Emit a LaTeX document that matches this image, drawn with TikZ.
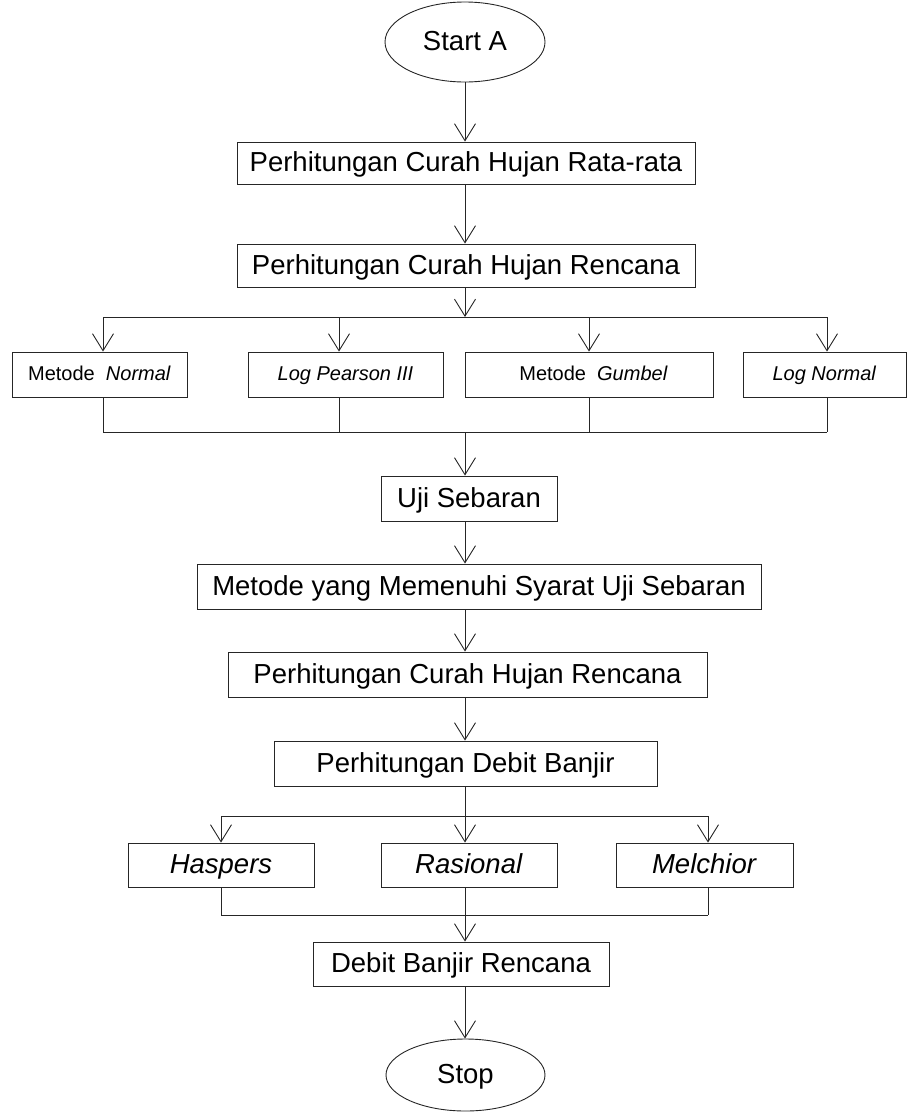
\documentclass[tikz,border=0pt]{standalone}
\usepackage{fontspec}
\setmainfont{Liberation Sans}
\usetikzlibrary{arrows.meta,shapes.geometric}

\tikzset{
  box/.style={draw=black!85, line width=0.9pt, inner sep=0pt, minimum height=45pt,
    font=\fontsize{27.5pt}{33pt}\selectfont, text height=20pt, text depth=2.75pt},
  smallbox/.style={box, font=\fontsize{20pt}{24pt}\selectfont, text height=14.5pt, text depth=2pt},
  term/.style={box, ellipse},
  wire/.style={draw=black!85, line width=0.9pt},
  arr/.style={wire, -{Straight Barb[length=17pt,width=21pt]}}
}

\begin{document}
\begin{tikzpicture}[x=1pt,y=-1pt]
    \useasboundingbox (0,0) rectangle (908,1112);
    % x of the main line and of the branches
    \coordinate (trunk) at (465,0);
    \foreach \n/\x in {normal/103,pearson/339,gumbel/589,lognormal/827,haspers/221,rasional/465,melchior/708}
      \coordinate (x\n) at (\x,0);

    \node[term, minimum width=160pt, minimum height=80pt] (start) at (465,42) {Start A};
    \node[box, minimum width=458pt, minimum height=42pt] (b1) at (466,163) {Perhitungan Curah Hujan Rata-rata};
    \node[box, minimum width=458pt, minimum height=43pt] (b2) at (466,265.5) {Perhitungan Curah Hujan Rencana};

    \node[smallbox, minimum width=175pt] (normal) at (99.5,374.5) {Metode\ \ \textit{Normal}\hspace{10pt}};
    \node[smallbox, minimum width=195pt] (pearson) at (345.5,374.5) {\textit{Log Pearson III}\hspace{37pt}};
    \node[smallbox, minimum width=248pt] (gumbel) at (589,374.5) {\hspace{9pt}Metode\ \ \textit{Gumbel}};
    \node[smallbox, minimum width=163pt] (lognormal) at (824.5,374.5) {\textit{Log Normal}\hspace{6pt}};

    \node[box, minimum width=176pt] (uji) at (469,498.5) {Uji Sebaran};
    \node[box, minimum width=564pt] (syarat) at (479,586.5) {Metode yang Memenuhi Syarat Uji Sebaran};
    \node[box, minimum width=479pt] (b3) at (467.5,674.5) {Perhitungan Curah Hujan Rencana};
    \node[box, minimum width=383pt] (debit) at (465.5,763.5) {Perhitungan Debit Banjir};

    \node[box, minimum width=186pt, minimum height=44pt] (haspers) at (221,865) {\textit{Haspers}};
    \node[box, minimum width=176pt, minimum height=44pt] (rasional) at (469,865) {\textit{Rasional}};
    \node[box, minimum width=177pt, minimum height=44pt] (melchior) at (704.5,865) {\textit{Melchior}};

    \node[box, minimum width=296pt, minimum height=44pt] (drb) at (461,964) {Debit Banjir Rencana};
    \node[term, minimum width=159pt, minimum height=72pt] (stop) at (465.5,1075) {Stop};

    \foreach \a/\b in {start/b1,b1/b2,uji/syarat,syarat/b3,b3/debit,drb/stop}
      \draw[arr] (\a.south -| trunk) -- (\b.north -| trunk);

    % four distribution methods
    \coordinate (fork1) at (465,317);
    \coordinate (join1) at (465,432);
    \draw[arr] (b2.south -| trunk) -- (fork1);
    \draw[wire] (fork1 -| xnormal) -- (fork1 -| xlognormal);
    \draw[wire] (join1 -| xnormal) -- (join1 -| xlognormal);
    \foreach \n in {normal,pearson,gumbel,lognormal} {
      \draw[arr] (fork1 -| x\n) -- (\n.north -| x\n);
      \draw[wire] (\n.south -| x\n) -- (join1 -| x\n);
    }
    \draw[arr] (join1) -- (uji.north -| trunk);

    % three flood methods
    \coordinate (fork2) at (465,816);
    \coordinate (join2) at (465,915);
    \draw[wire] (debit.south -| trunk) -- (fork2);
    \draw[wire] (fork2 -| xhaspers) -- (fork2 -| xmelchior);
    \draw[wire] (join2 -| xhaspers) -- (join2 -| xmelchior);
    \foreach \n in {haspers,rasional,melchior} {
      \draw[arr] (fork2 -| x\n) -- (\n.north -| x\n);
      \draw[wire] (\n.south -| x\n) -- (join2 -| x\n);
    }
    \draw[arr] (join2) -- (drb.north -| trunk);
\end{tikzpicture}
\end{document}
